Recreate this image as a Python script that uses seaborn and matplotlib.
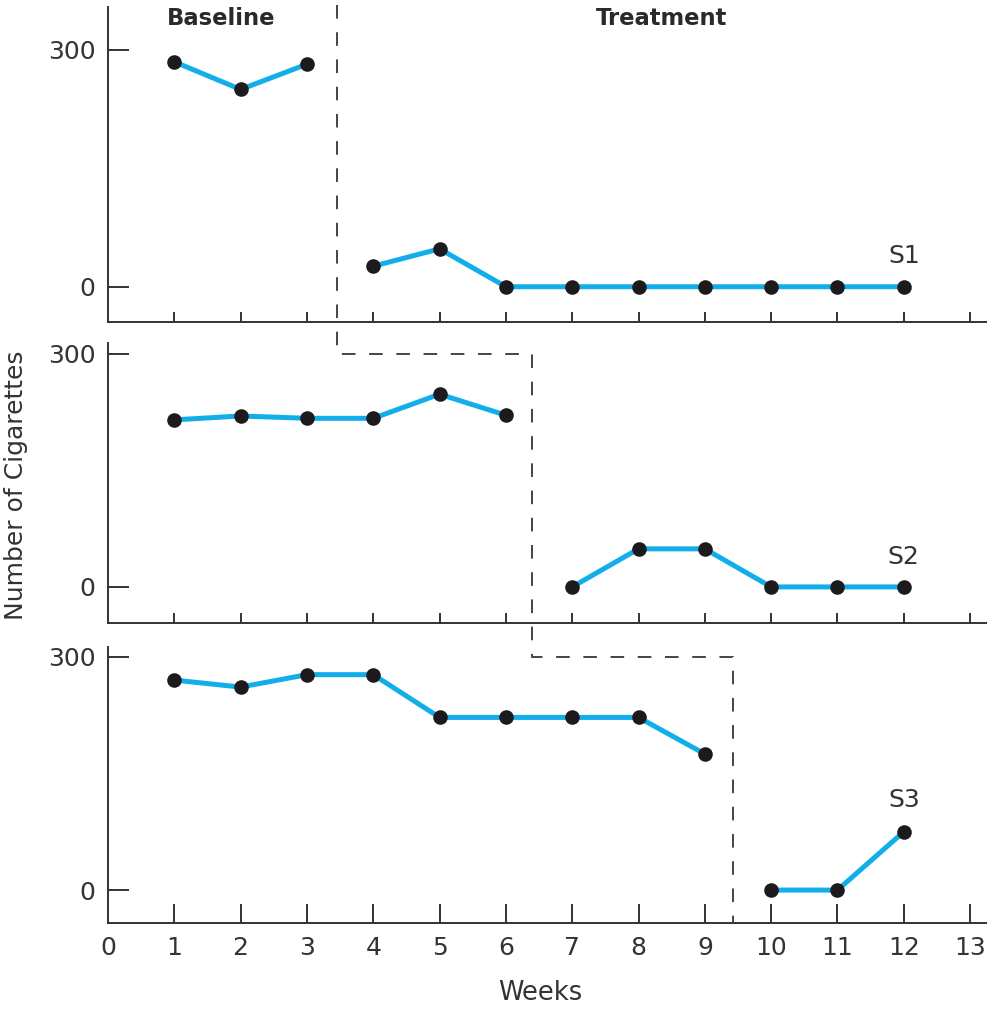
import matplotlib
matplotlib.use("Agg")
import matplotlib.pyplot as plt
import seaborn as sns
import pandas as pd
from matplotlib.lines import Line2D

sns.set_theme(style="white")
plt.rcParams['font.family'] = ['DejaVu Sans']

# ---- data ----
s1_base_weeks = [1, 2, 3]
s1_base = [285, 250, 282]
s1_treat_weeks = [4, 5, 6, 7, 8, 9, 10, 11, 12]
s1_treat = [26, 48, 0, 0, 0, 0, 0, 0, 0]

s2_base_weeks = [1, 2, 3, 4, 5, 6]
s2_base = [215, 220, 217, 217, 248, 221]
s2_treat_weeks = [7, 8, 9, 10, 11, 12]
s2_treat = [0, 49, 49, 0, 0, 0]

s3_base_weeks = [1, 2, 3, 4, 5, 6, 7, 8, 9]
s3_base = [270, 261, 277, 277, 222, 222, 222, 222, 175]
s3_treat_weeks = [10, 11, 12]
s3_treat = [0, 0, 75]

subjects = ["S1", "S2", "S3"]
phase_labels = ["Baseline", "Treatment"]
phase_changes = [3.45, 6.4, 9.42]
x_ticks = list(range(0, 14))
y_ticks = [0, 300]

# ---- style ----
BLUE = "#12aeea"
DOT = "#1c1a1d"
INK = "#333333"
FS = 18

fig = plt.figure(figsize=(9.88, 10.11), dpi=100)
left, width = 0.1093, 0.8887
positions = [
    [left, 0.6815, width, 0.3116],
    [left, 0.3838, width, 0.2770],
    [left, 0.0870, width, 0.2730],
]
ylims = [(-44.7, 354.5), (-46.4, 314), (-42.4, 312.5)]
series = [
    (s1_base_weeks, s1_base, s1_treat_weeks, s1_treat),
    (s2_base_weeks, s2_base, s2_treat_weeks, s2_treat),
    (s3_base_weeks, s3_base, s3_treat_weeks, s3_treat),
]
label_y = [39, 38.6, 115.7]

axes = []
for i, (pos, yl, ser) in enumerate(zip(positions, ylims, series)):
    ax = fig.add_axes(pos)
    axes.append(ax)
    bw, bv, tw, tv = ser
    for xs, ys in [(bw, bv), (tw, tv)]:
        df = pd.DataFrame({"week": xs, "n": ys})
        sns.lineplot(data=df, x="week", y="n", ax=ax, color=BLUE,
                     linewidth=3.6, marker="o", markersize=10.5,
                     markerfacecolor=DOT, markeredgecolor=DOT,
                     markeredgewidth=0, zorder=3)
    ax.set_xlim(0, 13.24)
    ax.set_ylim(*yl)
    ax.set_xticks(x_ticks[1:])
    ax.set_yticks(y_ticks)
    ax.set_yticklabels([str(v) for v in y_ticks], fontsize=FS, color=INK)
    ax.set_xlabel("")
    ax.set_ylabel("")
    for s in ["top", "right"]:
        ax.spines[s].set_visible(False)
    for s in ["left", "bottom"]:
        ax.spines[s].set_color(INK)
        ax.spines[s].set_linewidth(1.4)
    ax.tick_params(axis="y", direction="in", length=15, width=1.4,
                   color=INK, pad=9, left=True)
    if i < 2:
        ax.tick_params(axis="x", direction="in", length=7, width=1.4,
                       color=INK, bottom=True, labelbottom=False)
    else:
        ax.set_xticks(x_ticks)
        ax.set_xticklabels([str(v) for v in x_ticks], fontsize=FS, color=INK)
        ax.tick_params(axis="x", direction="in", length=14, width=1.4,
                       color=INK, bottom=True, pad=9)
        ax.xaxis.get_major_ticks()[0].tick1line.set_visible(False)
    ax.text(12.0, label_y[i], subjects[i], fontsize=FS, color=INK,
            ha="center", va="center")
    ax.grid(False)

axes[0].text(1.71, 340, phase_labels[0], fontsize=16.3, fontweight="bold",
             color="#2a2a2a", ha="center", va="center")
axes[0].text(8.35, 340, phase_labels[1], fontsize=16.3, fontweight="bold",
             color="#2a2a2a", ha="center", va="center")

# dashed multiple-baseline phase-change line
def to_fig(ax, x, y):
    disp = ax.transData.transform((x, y))
    return fig.transFigure.inverted().transform(disp)

pts = [
    to_fig(axes[0], phase_changes[0], 357),
    to_fig(axes[1], phase_changes[0], 300),
    to_fig(axes[1], phase_changes[1], 300),
    to_fig(axes[2], phase_changes[1], 300),
    to_fig(axes[2], phase_changes[2], 300),
    to_fig(axes[2], phase_changes[2], ylims[2][0]),
]
fig.add_artist(Line2D([p[0] for p in pts], [p[1] for p in pts],
                      transform=fig.transFigure, color="#444444",
                      linewidth=1.4, linestyle=(0, (7, 7))))

fig.text(0.016, 0.52, "Number of Cigarettes", rotation=90, fontsize=FS,
         color=INK, ha="center", va="center")
fig.text(0.547, 0.018, "Weeks", fontsize=18.5, color=INK,
         ha="center", va="center")

fig.savefig("out.png", dpi=100, facecolor="white")
